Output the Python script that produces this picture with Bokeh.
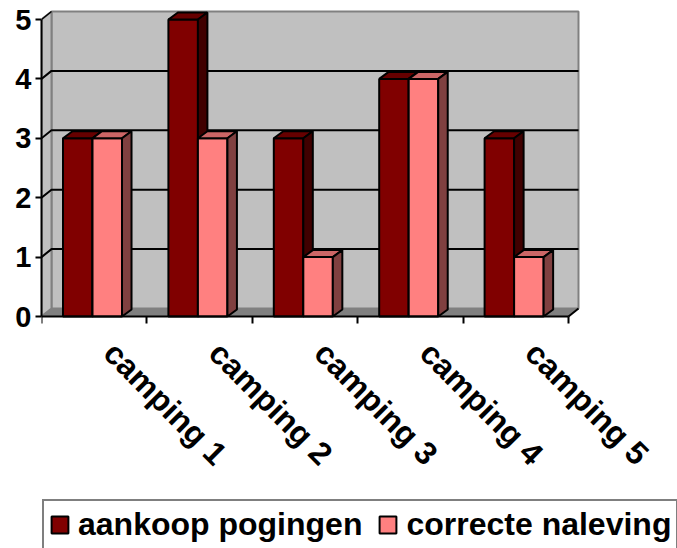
import math
from bokeh.plotting import figure
from bokeh.models import Range1d, LinearAxis, FixedTicker, Legend, LegendItem, ColumnDataSource
from bokeh.embed import file_html
from bokeh.resources import INLINE

# ---- data ----
categories = ["camping 1", "camping 2", "camping 3", "camping 4", "camping 5"]
aankoop_pogingen = [3, 5, 3, 4, 3]
correcte_naleving = [3, 3, 1, 4, 1]
series_names = ["aankoop pogingen", "correcte naleving"]
y_ticks = [0, 1, 2, 3, 4, 5]

# ---- layout constants ----
W, H = 677, 548
LEFT = 41
PX_X = 105.4   # pixels per category
PX_Y = 59.4    # pixels per value unit
ZERO_FROM_TOP = 316
x_end = (W - LEFT) / PX_X
y_top = ZERO_FROM_TOP / PX_Y
y_bot = -(H - ZERO_FROM_TOP) / PX_Y

WALL_DX, WALL_DY = 10 / PX_X, 8 / PX_Y
BAR_DX, BAR_DY = 9.5 / PX_X, 7 / PX_Y
BAR_START, BAR_W = 0.204, 0.28
LABEL_SHIFT = 0.645

FONT = "Liberation Sans"
ncat = len(categories)
ymax = max(y_ticks)

p = figure(width=W, height=H, x_range=Range1d(0, x_end), y_range=Range1d(y_bot, y_top),
           output_backend="svg", toolbar_location=None,
           x_axis_location=None, y_axis_location=None,
           min_border_left=LEFT, min_border_right=0, min_border_top=0, min_border_bottom=0)
p.outline_line_color = None
p.background_fill_color = "white"
p.grid.visible = False

# ---- 3D walls ----
p.quad(left=WALL_DX, right=ncat + WALL_DX, bottom=WALL_DY, top=ymax + WALL_DY,
       fill_color="#C0C0C0", line_color="#808080", line_width=2)
p.patch([0, 0, WALL_DX, WALL_DX], [0, ymax, ymax + WALL_DY, WALL_DY],
        fill_color="#C0C0C0", line_color="#808080", line_width=2)
p.patch([0, ncat, ncat + WALL_DX, WALL_DX], [0, 0, WALL_DY, WALL_DY],
        fill_color="#808080", line_color="#808080", line_width=1)
p.segment(x0=[ncat], y0=[0], x1=[ncat + WALL_DX], y1=[WALL_DY], line_color="black", line_width=2)
p.segment(x0=[0], y0=[ymax], x1=[WALL_DX], y1=[ymax + WALL_DY], line_color="black", line_width=1.5)

grid_vals = [v for v in y_ticks if 0 < v < ymax]
p.multi_line(xs=[[0, WALL_DX, ncat + WALL_DX] for v in grid_vals],
             ys=[[v, v + WALL_DY, v + WALL_DY] for v in grid_vals],
             line_color="black", line_width=2)

# ---- bars ----
styles = [
    dict(front="#800000", top="#660000", side="#400000"),
    dict(front="#FF8080", top="#CC6666", side="#804040"),
]
front_renderers = []
for s, vals in enumerate([aankoop_pogingen, correcte_naleving]):
    x0 = [i + BAR_START + s * BAR_W for i in range(ncat)]
    x1 = [x + BAR_W for x in x0]
    src = ColumnDataSource(dict(left=x0, right=x1, top=vals, bottom=[0] * ncat))
    st = styles[s]
    r = p.quad(left="left", right="right", top="top", bottom="bottom", source=src,
               fill_color=st["front"], line_color="black", line_width=2)
    front_renderers.append(r)
    p.patches(xs=[[a, b, b + BAR_DX, a + BAR_DX] for a, b in zip(x0, x1)],
              ys=[[v, v, v + BAR_DY, v + BAR_DY] for v in vals],
              fill_color=st["top"], line_color="black", line_width=2)
    p.patches(xs=[[b, b, b + BAR_DX, b + BAR_DX] for b in x1],
              ys=[[0, v, v + BAR_DY, BAR_DY] for v in vals],
              fill_color=st["side"], line_color="black", line_width=2)

# ---- axes ----
yaxis = LinearAxis(ticker=FixedTicker(ticks=y_ticks, minor_ticks=[]), bounds=(0, ymax),
                   axis_line_color="black", axis_line_width=2,
                   major_tick_out=6, major_tick_in=0, major_tick_line_width=2,
                   minor_tick_out=0, minor_tick_in=0,
                   major_label_text_font=FONT, major_label_text_font_style="bold",
                   major_label_text_font_size="29px", major_label_text_color="black",
                   major_label_standoff=4)
p.add_layout(yaxis, "left")

label_pos = [i + LABEL_SHIFT for i in range(ncat)]
xaxis = LinearAxis(fixed_location=0,
                   ticker=FixedTicker(ticks=label_pos, minor_ticks=list(range(ncat + 1))),
                   bounds=(0, ncat),
                   major_label_overrides={pos: c for pos, c in zip(label_pos, categories)},
                   axis_line_color="black", axis_line_width=2,
                   major_tick_out=0, major_tick_in=0,
                   minor_tick_out=7, minor_tick_in=0, minor_tick_line_width=2,
                   minor_tick_line_color="black",
                   major_label_orientation=-math.pi / 4, major_label_standoff=24,
                   major_label_text_font=FONT, major_label_text_font_style="bold",
                   major_label_text_font_size="32px", major_label_text_color="black")
p.add_layout(xaxis, "below")

legend = Legend(items=[LegendItem(label=series_names[0], renderers=[front_renderers[0]]),
                       LegendItem(label=series_names[1], renderers=[front_renderers[1]])],
                orientation="horizontal", location=(1, -2),
                border_line_color="black", border_line_width=2,
                background_fill_color="white", background_fill_alpha=1,
                padding=5, spacing=15, label_standoff=8, margin=0,
                glyph_width=21, glyph_height=21,
                label_text_font=FONT, label_text_font_style="bold",
                label_text_font_size="32px", label_text_color="black")
p.add_layout(legend, "center")

open("out.html", "w").write(file_html(p, INLINE))
